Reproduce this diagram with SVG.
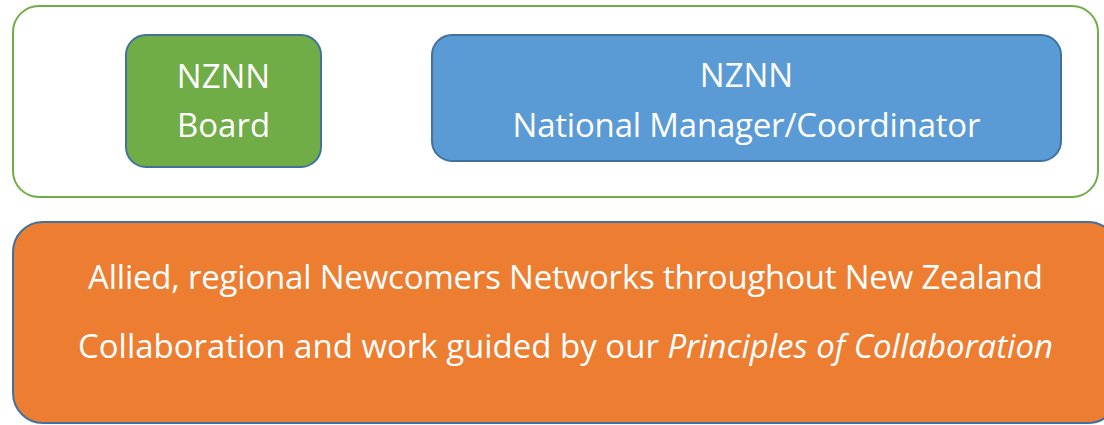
<svg xmlns="http://www.w3.org/2000/svg" width="1104" height="425" viewBox="0 0 1104 425">
<style>
.box{stroke:#41719C;stroke-width:2}
.t{font-family:"Open Sans","Noto Sans",sans-serif;font-size:33px;fill:#FFFFFF;text-anchor:middle}
</style>
<rect width="1104" height="425" fill="#FFFFFF"/>
<g id="container">
<rect x="13" y="6" width="1085" height="191" rx="26" ry="26" fill="#FFFFFF" stroke="#70AD47" stroke-width="2"/>
</g>
<g id="board">
<rect class="box" x="126" y="35" width="195" height="132" rx="20" ry="20" fill="#70AD47"/>
<text class="t" x="223.5" y="88">NZNN</text>
<text class="t" x="223.5" y="137">Board</text>
</g>
<g id="manager">
<rect class="box" x="432" y="35" width="629" height="126" rx="20" ry="20" fill="#5B9BD5"/>
<text class="t" x="746.5" y="87">NZNN</text>
<text class="t" x="746.5" y="137" textLength="468" lengthAdjust="spacing">National Manager/Coordinator</text>
</g>
<g id="networks">
<rect class="box" x="13" y="222" width="1105" height="201" rx="30" ry="30" fill="#ED7D31"/>
<text class="t" x="565.5" y="289" textLength="955" lengthAdjust="spacing">Allied, regional Newcomers Networks throughout New Zealand</text>
<text class="t" x="565.5" y="358" textLength="975" lengthAdjust="spacing">Collaboration and work guided by our <tspan font-style="italic">Principles of Collaboration</tspan></text>
</g>
<g id="connectors"></g>
</svg>
